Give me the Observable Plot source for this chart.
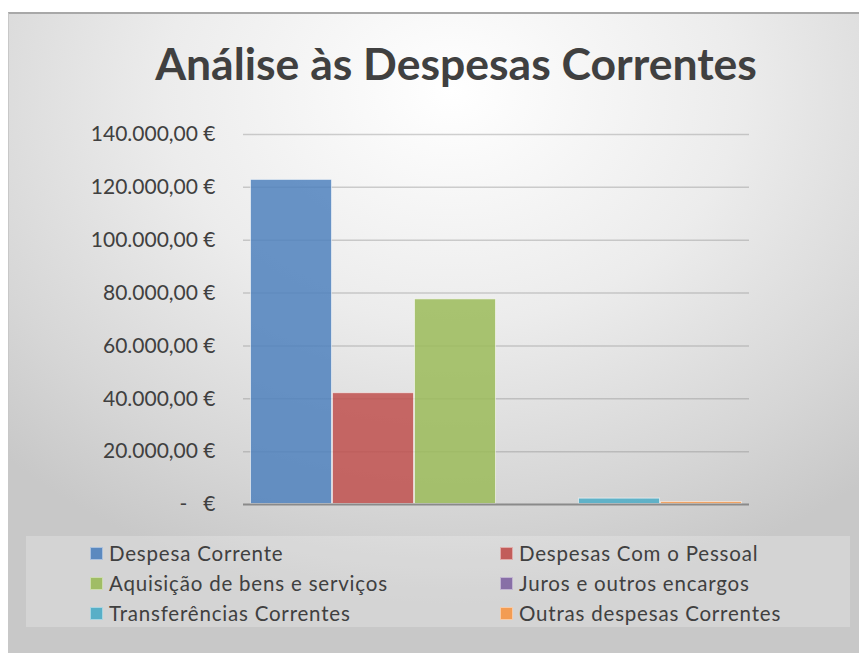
<!DOCTYPE html>
<html><head><meta charset="utf-8">
<script src="https://cdn.jsdelivr.net/npm/d3@7"></script>
<script src="https://cdn.jsdelivr.net/npm/@observablehq/plot@0.6"></script>
<style>
html,body{margin:0;padding:0;background:#fff;}
body{width:859px;height:653px;overflow:hidden;position:relative;font-family:Lato,"Open Sans",sans-serif;}
#frame{position:absolute;left:8px;top:12px;width:851px;height:641px;border-top:2px solid #a8a8a8;border-left:1px solid #c8c8c8;
 background:radial-gradient(ellipse 75% 80% at 52% 12%, #ffffff 0%, #ececec 45%, #d6d6d6 80%, #c8c8c8 100%);}
#title{position:absolute;left:0;top:36px;width:912px;text-align:center;font-weight:700;font-size:44.5px;color:#404040;white-space:nowrap;}
#plot{position:absolute;left:0;top:0;}
#legend{position:absolute;left:26px;top:536px;width:824px;height:91px;background:rgba(255,255,255,0.22);}
.item{position:absolute;height:20px;display:flex;align-items:center;font-size:20.5px;letter-spacing:0.8px;color:#404040;white-space:nowrap;}
.sw{width:13px;height:13px;margin-right:6px;box-sizing:border-box;border:1px solid rgba(255,255,255,0.5);}
</style></head>
<body>
<div id="frame"></div>
<div id="title">Análise às Despesas Correntes</div>
<div id="plot"></div>
<div id="legend"></div>
<script>
const series = ["Despesa Corrente","Despesas Com o Pessoal","Aquisição de bens e serviços","Juros e outros encargos","Transferências Correntes","Outras despesas Correntes"];
const values = [123000, 42300, 77800, 0, 2400, 1100];
const colors = ["#4f81bd","#c0504d","#9bbb59","#8064a2","#4bacc6","#f79646"];
const yTicks = [0,20000,40000,60000,80000,100000,120000,140000];

const data = series.map((s,i)=>({serie:s, value:values[i]}));
const loc = d3.formatLocale({decimal:",", thousands:".", grouping:[3], currency:["",""]});
const fmt = loc.format(",.2f");
const tickFmt = d => d === 0 ? "-\u00a0\u00a0\u00a0€" : fmt(d) + " €";

const chart = Plot.plot({
  width: 859, height: 520,
  marginLeft: 243, marginRight: 110, marginTop: 134, marginBottom: 16,
  style: {background:"transparent", fontFamily:"Lato, 'Open Sans', sans-serif", fontSize:"21px", color:"#404040", overflow:"visible"},
  x: {domain: series, paddingInner: 0, paddingOuter: 0.085, axis: null},
  y: {domain: [0,140000], ticks: yTicks, tickFormat: tickFmt, tickSize: 0, tickPadding: 28, label: null},
  color: {domain: series, range: colors},
  marks: [
    Plot.gridY(yTicks.filter(d=>d>0), {stroke:"#8c8c8c", strokeOpacity:0.4, strokeWidth:1.5}),
    Plot.barY(data, {x:"serie", y:"value", fill:"serie", fillOpacity:0.85, stroke:"white", strokeOpacity:0.55, strokeWidth:1, inset:0.5}),
    Plot.ruleY([0], {stroke:"#8a8a8a", strokeWidth:2}),
    Plot.axisY({ticks: yTicks, tickFormat: tickFmt, tickSize: 0, tickPadding: 28, fontSize: 21, fill:"#404040", label:null})
  ]
});
document.getElementById("plot").appendChild(chart);

const leg = document.getElementById("legend");
const pos = [[64,7],[474,7],[64,37],[474,37],[64,67],[474,67]];
series.forEach((s,i)=>{
  const it = document.createElement("div");
  it.className = "item";
  it.style.left = pos[i][0] + "px";
  it.style.top = pos[i][1] + "px";
  const sw = document.createElement("span");
  sw.className = "sw";
  sw.style.background = colors[i];
  sw.style.opacity = 0.9;
  const tx = document.createElement("span");
  tx.textContent = s;
  it.appendChild(sw); it.appendChild(tx);
  leg.appendChild(it);
});
</script>
</body></html>
